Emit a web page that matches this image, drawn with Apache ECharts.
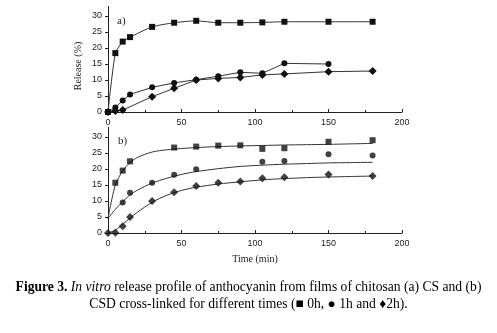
<!DOCTYPE html>
<html>
<head>
<meta charset="utf-8">
<script src="https://cdn.jsdelivr.net/npm/echarts@6/dist/echarts.min.js"></script>
<style>
  html, body { margin: 0; padding: 0; background: #fff; }
  #chart { width: 497px; height: 333px; }
</style>
</head>
<body>
<div id="chart"></div>
<script>
// panel a) CS films, measured points (time in min, release in %)
const aSquare = [[0, 0], [5, 18.4], [10, 22], [15, 23.4], [30, 26.6], [45, 27.9], [60, 28.5], [75, 27.9], [90, 27.9], [105, 28], [120, 28.2], [150, 28.2], [180, 28.2]]
const aCircle = [[0, 0], [5, 1.4], [10, 3.6], [15, 5.5], [30, 7.7], [45, 9.1], [60, 10.1], [75, 11.2], [90, 12.4], [105, 12.1], [120, 15.2], [150, 15]]
const aDiamond = [[0, 0], [5, 0.3], [10, 0.6], [30, 4.8], [45, 7.4], [60, 10], [75, 10.5], [90, 10.8], [105, 11.6], [120, 11.9], [150, 12.6], [180, 12.8]]

// panel b) CSD films, measured points
const bSquare = [[5, 15.7], [10, 19.5], [15, 22.4], [45, 26.7], [60, 27], [75, 27.3], [90, 27.4], [105, 26.3], [120, 26.5], [150, 28.5], [180, 29]]
const bCircle = [[10, 9.5], [15, 12.6], [30, 15.7], [45, 18.2], [60, 19.9], [105, 22.3], [120, 22.5], [150, 24.6], [180, 24.2]]
const bDiamond = [[0, 0], [5, 0.1], [10, 2.1], [15, 5], [30, 10], [45, 12.7], [60, 14.7], [75, 15.7], [90, 16.1], [105, 17.1], [120, 17.4], [150, 18.3], [180, 17.8]]

// panel b) fitted curves
const bSquareFit = [[0, 4.5], [5, 15], [10, 19.4], [15, 22], [20, 23.6], [30, 25.3], [40, 26], [50, 26.4], [60, 26.7], [75, 27], [90, 27.2], [105, 27.35], [120, 27.5], [135, 27.6], [150, 27.7], [165, 27.85], [180, 28]]
const bCircleFit = [[0, 4.5], [5, 7.4], [10, 9.8], [15, 11.9], [20, 13.4], [30, 15.6], [40, 17.1], [50, 18.3], [60, 19.2], [75, 20.1], [90, 20.8], [105, 21.2], [120, 21.5], [135, 21.7], [150, 21.9], [165, 22], [180, 22.1]]
const bDiamondFit = [[0, 0], [5, 0.9], [10, 2.7], [15, 4.7], [20, 6.5], [30, 9.6], [40, 11.8], [50, 13.3], [60, 14.3], [75, 15.3], [90, 16], [105, 16.6], [120, 17], [135, 17.3], [150, 17.5], [165, 17.65], [180, 17.8]]

const yTicks = [0, 5, 10, 15, 20, 25, 30]

const chart = echarts.init(document.getElementById('chart'))

const lineColor = '#333'
const markColor = '#111'
const capFont = 13.6

function xAxis(gridIndex, name) {
  return {
    gridIndex,
    type: 'value',
    min: 0,
    max: 200,
    interval: 50,
    name: name || '',
    nameLocation: 'middle',
    nameGap: 21,
    nameTextStyle: { fontFamily: 'Liberation Serif', fontSize: 10, color: '#222' },
    axisLine: { lineStyle: { color: '#222', width: 1 } },
    axisTick: { inside: true, length: 3, lineStyle: { color: '#222' } },
    minorTick: { show: true, splitNumber: 2, length: 2, lineStyle: { color: '#222' } },
    axisLabel: { margin: 6, fontFamily: 'Liberation Sans', fontSize: 9, color: '#222' },
    splitLine: { show: false }
  }
}

function yAxis(gridIndex) {
  return {
    gridIndex,
    type: 'value',
    min: 0,
    max: 33,
    interval: 5,
    axisLine: { show: true, lineStyle: { color: '#222', width: 1 } },
    axisTick: { show: true, length: 3, customValues: yTicks, lineStyle: { color: '#222' } },
    axisLabel: { margin: 6, customValues: yTicks, fontFamily: 'Liberation Sans', fontSize: 9, color: '#222' },
    splitLine: { show: false }
  }
}

function points(data, symbol, xi, line, smooth) {
  return {
    type: line ? 'line' : 'scatter',
    xAxisIndex: xi,
    yAxisIndex: xi,
    data,
    symbol,
    symbolSize: symbol === 'diamond' ? 8 : 6,
    smooth: smooth || false,
    itemStyle: { color: markColor },
    lineStyle: { color: lineColor, width: 1 },
    silent: true,
    z: 3
  }
}

function fit(data, xi) {
  return {
    type: 'line',
    xAxisIndex: xi,
    yAxisIndex: xi,
    data,
    showSymbol: false,
    smooth: 0.3,
    lineStyle: { color: lineColor, width: 1 },
    silent: true,
    z: 2
  }
}

const option = {
  backgroundColor: '#fff',
  animation: false,
  title: [
    {
      left: 'center',
      top: 275,
      text: '{b|Figure 3.} {i|In vitro} release profile of anthocyanin from films of chitosan (a) CS and (b)',
      textStyle: {
        fontFamily: 'Liberation Serif',
        fontSize: capFont,
        fontWeight: 'normal',
        color: '#000',
        rich: {
          b: { fontFamily: 'Liberation Serif', fontSize: capFont, fontWeight: 'bold', color: '#000' },
          i: { fontFamily: 'Liberation Serif', fontSize: capFont, fontStyle: 'italic', color: '#000' }
        }
      }
    },
    {
      left: 'center',
      top: 292,
      text: 'CSD cross-linked for different times (■ 0h, ● 1h and ♦2h).',
      textStyle: { fontFamily: 'Liberation Serif', fontSize: capFont, fontWeight: 'normal', color: '#000' }
    }
  ],
  graphic: [
    {
      type: 'text',
      x: 78,
      y: 66,
      rotation: Math.PI / 2,
      style: {
        text: 'Release (%)',
        fontFamily: 'Liberation Serif',
        fontSize: 10,
        fill: '#222',
        align: 'center',
        verticalAlign: 'middle'
      }
    },
    {
      type: 'text',
      x: 117,
      y: 16,
      style: { text: 'a)', fontFamily: 'Liberation Serif', fontSize: 11, fill: '#222' }
    },
    {
      type: 'text',
      x: 118,
      y: 136,
      style: { text: 'b)', fontFamily: 'Liberation Serif', fontSize: 11, fill: '#222' }
    }
  ],
  grid: [
    { left: 108, top: 6.4, width: 294, height: 105.6 },
    { left: 108, top: 127.4, width: 294, height: 105.6 }
  ],
  xAxis: [xAxis(0), xAxis(1, 'Time (min)')],
  yAxis: [yAxis(0), yAxis(1)],
  series: [
    points(aSquare, 'rect', 0, true, 0.2),
    points(aCircle, 'circle', 0, true),
    points(aDiamond, 'diamond', 0, true),
    fit(bSquareFit, 1),
    fit(bCircleFit, 1),
    fit(bDiamondFit, 1),
    points(bSquare, 'rect', 1),
    points(bCircle, 'circle', 1),
    points(bDiamond, 'diamond', 1)
  ]
}

chart.setOption(option)
</script>
</body>
</html>
